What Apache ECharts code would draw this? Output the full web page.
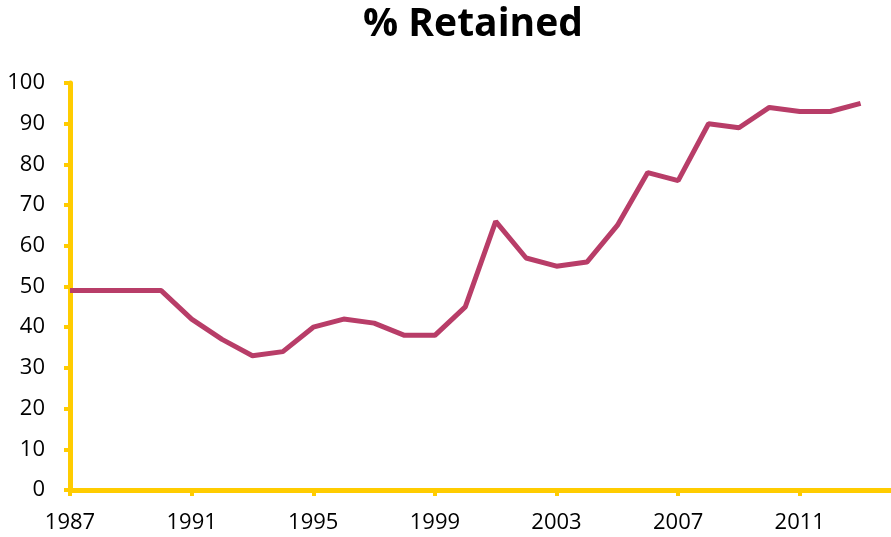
<!DOCTYPE html>
<html>
<head>
<meta charset="utf-8">
<script src="https://cdn.jsdelivr.net/npm/echarts@6/dist/echarts.min.js"></script>
<style>
  html, body { margin: 0; padding: 0; background: #fff; }
  #main { width: 891px; height: 537px; }
</style>
</head>
<body>
<div id="main"></div>
<script>
// years on the x axis (last slot is empty, only extends the axis)
const years = [];
for (let y = 1987; y <= 2014; y++) years.push(String(y));
const retained = [49, 49, 49, 49, 42, 37, 33, 34, 40, 42, 41, 38, 38, 45,
  66, 57, 55, 56, 65, 78, 76, 90, 89, 94, 93, 93, 95];

const yellow = '#FFCC00';
const chart = echarts.init(document.getElementById('main'));
chart.setOption({
  animation: false,
  title: {
    text: '% Retained',
    left: 468,
    textAlign: 'center',
    top: 0,
    textStyle: { fontFamily: 'Open Sans', fontWeight: 'bold', fontSize: 39, color: '#000' }
  },
  grid: { left: 70, right: 0, top: 83, bottom: 47, containLabel: false },
  xAxis: {
    type: 'category',
    data: years,
    boundaryGap: false,
    axisLine: { lineStyle: { color: yellow, width: 5 } },
    axisTick: { interval: 3, length: 6, lineStyle: { color: yellow, width: 4 } },
    axisLabel: { interval: 3, margin: 22, fontFamily: 'Open Sans', fontSize: 22, color: '#000' },
    splitLine: { show: false }
  },
  yAxis: {
    type: 'value',
    min: 0,
    max: 100,
    interval: 10,
    axisLine: { show: true, lineStyle: { color: yellow, width: 5 } },
    axisTick: { show: true, length: 6, lineStyle: { color: yellow, width: 4 } },
    axisLabel: { margin: 25, fontFamily: 'Open Sans', fontSize: 22, color: '#000' },
    splitLine: { show: false }
  },
  series: [{
    type: 'line',
    data: retained,
    symbol: 'none',
    lineStyle: { color: '#B83D68', width: 5 }
  }]
});
</script>
</body>
</html>
